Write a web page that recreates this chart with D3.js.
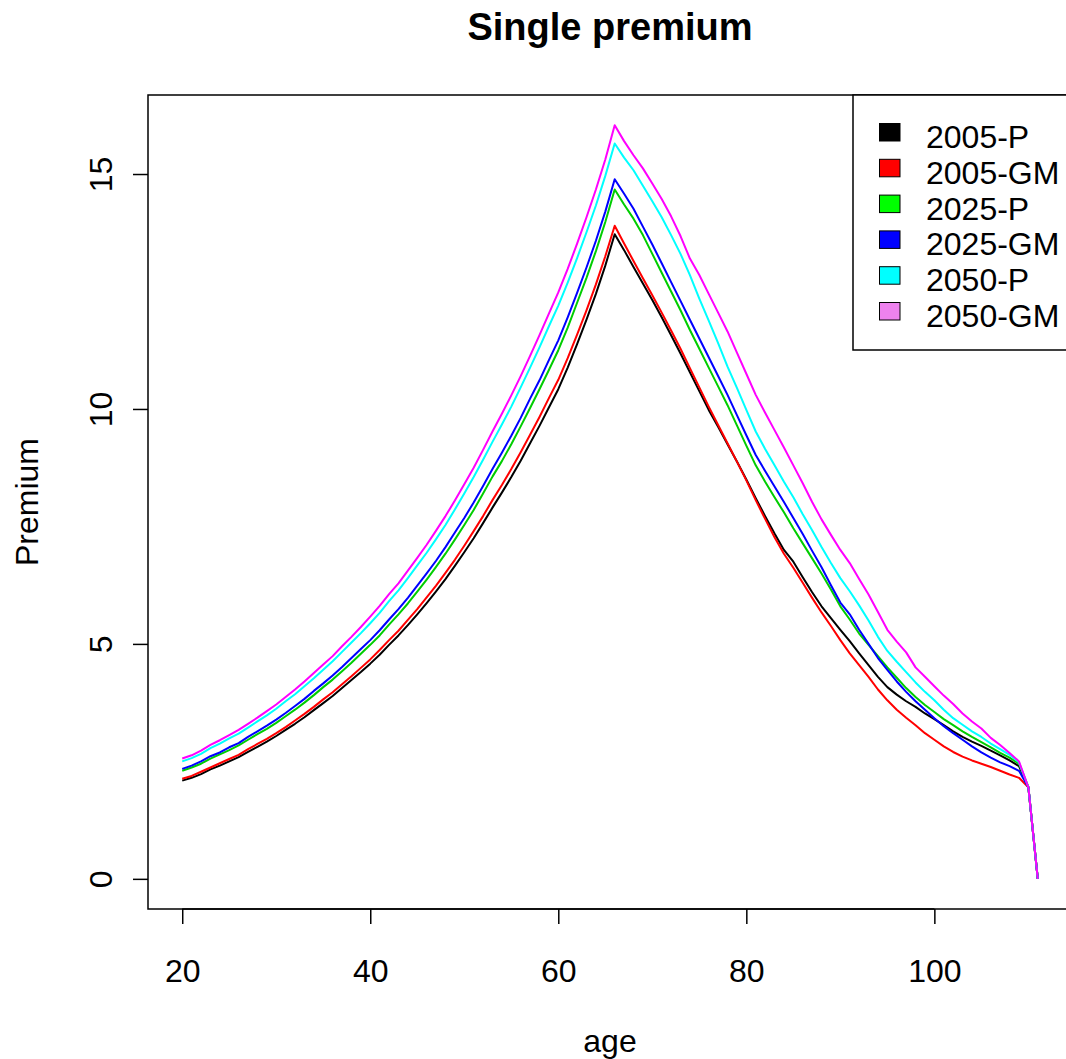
<!DOCTYPE html>
<html>
<head>
<meta charset="utf-8">
<script src="https://cdn.jsdelivr.net/npm/d3@7"></script>
<style>
  html, body { margin: 0; padding: 0; background: #fff; }
  svg { display: block; font-family: "Liberation Sans", Arial, Helvetica, sans-serif; }
</style>
</head>
<body>
<svg id="chart" width="1066" height="1059"></svg>
<script>
const ages = [20,21,22,23,24,25,26,27,28,29,30,31,32,33,34,35,36,37,38,39,40,41,42,43,44,45,46,47,48,49,
  50,51,52,53,54,55,56,57,58,59,60,61,62,63,64,65,66,67,68,69,70,71,72,73,74,75,76,77,78,79,
  80,81,82,83,84,85,86,87,88,89,90,91,92,93,94,95,96,97,98,99,100,101,102,103,104,105,106,107,108,109,110,111];

const p2005 = [2.09,2.15,2.23,2.33,2.41,2.50,2.59,2.70,2.81,2.92,
  3.04,3.17,3.30,3.44,3.59,3.74,3.89,4.06,4.23,4.40,
  4.58,4.77,4.98,5.18,5.40,5.63,5.87,6.12,6.38,6.66,
  6.95,7.25,7.57,7.90,8.22,8.55,8.90,9.27,9.64,10.03,
  10.42,10.88,11.38,11.90,12.45,13.05,13.72,13.38,13.02,12.67,
  12.32,11.95,11.57,11.18,10.78,10.38,9.98,9.62,9.25,8.88,
  8.50,8.10,7.72,7.35,7.00,6.75,6.42,6.10,5.80,5.55,
  5.30,5.06,4.80,4.55,4.30,4.08,3.92,3.78,3.66,3.52,
  3.40,3.27,3.14,3.02,2.92,2.83,2.73,2.63,2.52,2.40,
  1.95,0];

const gm2005 = [2.13,2.19,2.28,2.37,2.46,2.55,2.64,2.76,2.87,2.98,
  3.10,3.23,3.37,3.51,3.66,3.82,3.97,4.14,4.31,4.49,
  4.67,4.87,5.08,5.28,5.51,5.74,5.99,6.24,6.51,6.79,
  7.09,7.40,7.72,8.06,8.38,8.72,9.08,9.45,9.83,10.23,
  10.62,11.08,11.58,12.10,12.65,13.25,13.90,13.52,13.15,12.78,
  12.42,12.05,11.67,11.28,10.87,10.46,10.05,9.66,9.27,8.88,
  8.48,8.06,7.66,7.27,6.92,6.62,6.30,5.98,5.67,5.38,
  5.08,4.80,4.55,4.30,4.03,3.80,3.60,3.43,3.27,3.10,
  2.96,2.82,2.70,2.60,2.52,2.45,2.38,2.30,2.22,2.15,
  1.95,0];

const p2025 = [2.30,2.37,2.45,2.56,2.65,2.74,2.84,2.96,3.08,3.19,
  3.32,3.46,3.60,3.75,3.91,4.08,4.24,4.42,4.60,4.79,
  4.98,5.18,5.41,5.63,5.86,6.11,6.37,6.64,6.92,7.22,
  7.53,7.85,8.20,8.56,8.89,9.25,9.63,10.02,10.42,10.83,
  11.25,11.73,12.26,12.79,13.36,13.98,14.67,14.35,14.05,13.70,
  13.30,12.90,12.50,12.10,11.68,11.28,10.88,10.48,10.08,9.65,
  9.22,8.80,8.45,8.12,7.80,7.46,7.14,6.82,6.50,6.16,
  5.80,5.52,5.22,4.98,4.74,4.50,4.28,4.06,3.87,3.70,
  3.55,3.40,3.27,3.14,3.02,2.91,2.80,2.68,2.58,2.45,
  1.95,0];

const gm2025 = [2.34,2.41,2.50,2.61,2.69,2.80,2.89,3.02,3.14,3.26,
  3.39,3.53,3.68,3.83,4.00,4.16,4.33,4.51,4.70,4.89,
  5.08,5.29,5.52,5.74,5.98,6.24,6.50,6.77,7.06,7.37,
  7.68,8.01,8.36,8.72,9.07,9.43,9.81,10.22,10.61,11.04,
  11.46,11.95,12.47,13.01,13.58,14.20,14.89,14.58,14.26,13.88,
  13.50,13.10,12.70,12.30,11.90,11.50,11.10,10.70,10.30,9.87,
  9.44,9.02,8.68,8.35,8.02,7.68,7.34,6.98,6.63,6.25,
  5.88,5.63,5.30,5.00,4.70,4.45,4.20,3.98,3.78,3.60,
  3.42,3.25,3.10,2.96,2.82,2.69,2.58,2.48,2.40,2.30,
  1.95,0];

const p2050 = [2.50,2.57,2.66,2.78,2.88,2.99,3.09,3.22,3.35,3.48,
  3.62,3.78,3.93,4.10,4.27,4.45,4.63,4.83,5.03,5.23,
  5.44,5.66,5.91,6.14,6.40,6.67,6.94,7.23,7.53,7.86,
  8.20,8.55,8.92,9.30,9.67,10.05,10.46,10.88,11.31,11.76,
  12.20,12.69,13.21,13.76,14.33,14.96,15.65,15.35,15.08,14.75,
  14.42,14.08,13.70,13.30,12.85,12.35,11.88,11.40,10.90,10.45,
  9.98,9.52,9.15,8.80,8.45,8.12,7.76,7.42,7.06,6.72,
  6.40,6.12,5.82,5.50,5.15,4.85,4.62,4.40,4.18,3.98,
  3.80,3.60,3.42,3.28,3.14,3.02,2.88,2.76,2.64,2.48,
  1.95,0];

const gm2050 = [2.56,2.63,2.73,2.85,2.95,3.06,3.17,3.30,3.43,3.57,
  3.71,3.87,4.03,4.20,4.38,4.56,4.74,4.95,5.15,5.36,
  5.58,5.81,6.06,6.29,6.56,6.83,7.11,7.41,7.72,8.05,
  8.40,8.75,9.13,9.52,9.90,10.29,10.70,11.13,11.57,12.03,
  12.48,12.98,13.52,14.08,14.67,15.31,16.04,15.70,15.40,15.12,
  14.80,14.47,14.10,13.68,13.20,12.85,12.45,12.05,11.65,11.20,
  10.75,10.30,9.92,9.55,9.18,8.80,8.42,8.02,7.65,7.32,
  7.00,6.72,6.38,6.05,5.68,5.30,5.05,4.82,4.50,4.30,
  4.10,3.90,3.72,3.52,3.35,3.20,3.00,2.85,2.68,2.50,
  1.95,0];

const seriesNames = ["2005-P","2005-GM","2025-P","2025-GM","2050-P","2050-GM"];
const seriesValues = [p2005, gm2005, p2025, gm2025, p2050, gm2050];
const lineColors = ["#000000","#FF0000","#00CD00","#0000FF","#00FFFF","#FF00FF"];
const legendFills = ["#000000","#FF0000","#00FF00","#0000FF","#00FFFF","#EE82EE"];
const xTicks = [20,40,60,80,100];
const yTicks = [0,5,10,15];

const svg = d3.select("#chart");
const plot = {left: 148, top: 95, right: 1072, bottom: 909};

const xMin = d3.min(ages), xMax = d3.max(ages);
const xPad = (xMax - xMin) * 0.04;
const allVals = seriesValues.flat();
const yMin = d3.min(allVals), yMax = d3.max(allVals);
const yPad = (yMax - yMin) * 0.04;

const x = d3.scaleLinear().domain([xMin - xPad, xMax + xPad]).range([plot.left, plot.right]);
const y = d3.scaleLinear().domain([yMin - yPad, yMax + yPad]).range([plot.bottom, plot.top]);

// Title
svg.append("text").attr("x", (plot.left + plot.right) / 2).attr("y", 40)
  .attr("text-anchor", "middle").attr("font-size", 38).attr("font-weight", "bold")
  .text("Single premium");

// Lines
const line = d3.line().x((d, i) => x(ages[i])).y(d => y(d));
seriesValues.forEach((vals, k) => {
  svg.append("path").datum(vals).attr("d", line)
    .attr("fill", "none").attr("stroke", lineColors[k]).attr("stroke-width", 2)
    .attr("stroke-linejoin", "round");
});

// Axes
const xAxis = d3.axisBottom(x).tickValues(xTicks).tickSize(15).tickSizeOuter(0).tickPadding(0);
const gx = svg.append("g").attr("transform", `translate(0,${plot.bottom})`).call(xAxis);
gx.select(".domain").remove();
gx.append("line").attr("x1", x(xTicks[0])).attr("x2", x(xTicks[xTicks.length-1]))
  .attr("stroke", "#000").attr("stroke-width", 1.5);
gx.selectAll(".tick line").attr("stroke", "#000").attr("stroke-width", 1.5);
gx.selectAll(".tick text").attr("font-size", 32).attr("fill", "#000")
  .attr("font-family", "Liberation Sans, Arial, sans-serif")
  .attr("dy", null).attr("y", 73);

const yAxis = d3.axisLeft(y).tickValues(yTicks).tickSize(15).tickSizeOuter(0).tickPadding(0);
const gy = svg.append("g").attr("transform", `translate(${plot.left},0)`).call(yAxis);
gy.select(".domain").remove();
gy.selectAll(".tick line").attr("stroke", "#000").attr("stroke-width", 1.5);
gy.selectAll(".tick text").attr("font-size", 32).attr("fill", "#000")
  .attr("font-family", "Liberation Sans, Arial, sans-serif")
  .attr("x", null).attr("dy", null).attr("text-anchor", "middle")
  .attr("transform", "translate(-36,0) rotate(-90)");

// Box
svg.append("rect").attr("x", plot.left).attr("y", plot.top)
  .attr("width", plot.right - plot.left).attr("height", plot.bottom - plot.top)
  .attr("fill", "none").attr("stroke", "#000").attr("stroke-width", 1.5);

// Axis titles
svg.append("text").attr("x", (plot.left + plot.right) / 2).attr("y", 1052)
  .attr("text-anchor", "middle").attr("font-size", 32).text("age");
svg.append("text").attr("transform", `translate(38,${(plot.top + plot.bottom) / 2}) rotate(-90)`)
  .attr("text-anchor", "middle").attr("font-size", 32).text("Premium");

// Legend
const lg = svg.append("g");
lg.append("rect").attr("x", 853).attr("y", plot.top).attr("width", plot.right - 853)
  .attr("height", 350 - plot.top).attr("fill", "#fff").attr("stroke", "#000").attr("stroke-width", 1.5);
seriesNames.forEach((name, i) => {
  const top = 123.5 + i * 35.8;
  lg.append("rect").attr("x", 879.5).attr("y", top).attr("width", 20.5).attr("height", 17.5)
    .attr("fill", legendFills[i]).attr("stroke", "#000").attr("stroke-width", 1);
  lg.append("text").attr("x", 926).attr("y", top + 24.5).attr("font-size", 32).text(name);
});
</script>
</body>
</html>
